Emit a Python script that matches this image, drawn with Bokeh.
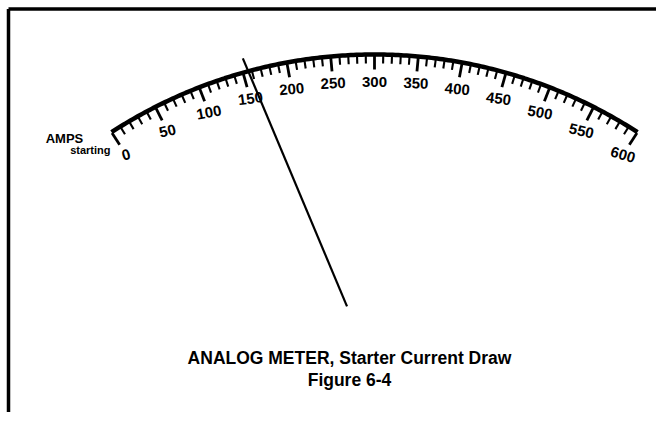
import numpy as np
from bokeh.plotting import figure
from bokeh.models import Range1d, ColumnDataSource
from bokeh.core.properties import value
from bokeh.embed import file_html
from bokeh.resources import INLINE

# ---- data ----
scale_min = 0
scale_max = 600
major_step = 50
minor_step = 10
major_values = list(range(0, 601, 50))
major_labels = [str(v) for v in major_values]
needle_value = 156
unit_label = "AMPS"
unit_sub = "starting"
title_line1 = "ANALOG METER, Starter Current Draw"
title_line2 = "Figure 6-4"

# ---- geometry (picture pixel coordinates, y downward) ----
W, H = 656, 412
cx, cy, R = 374.0, 538.0, 484.0
half_off = 263.0
pivot_x, pivot_y = 444.0, 538.0

def theta(v):
    off = (np.asarray(v, dtype=float) - (scale_min + scale_max) / 2) / ((scale_max - scale_min) / 2) * half_off
    return np.arcsin(off / R)

def pt(th, r):
    return cx + r * np.sin(th), cy - r * np.cos(th)

p = figure(width=W, height=H, output_backend="svg", toolbar_location=None,
           x_range=Range1d(0, W), y_range=Range1d(H, 0),
           min_border=0, background_fill_color="white", border_fill_color="white")
p.axis.visible = False
p.grid.visible = False
p.outline_line_color = None

# frame (left and top edges)
p.line([8, 8], [H, 8.5], line_color="black", line_width=3.5)
p.line([8, W], [8.5, 8.5], line_color="black", line_width=3.5)

# arc
ths = np.linspace(theta(scale_min), theta(scale_max), 200)
ax, ay = pt(ths, R)
p.line(ax, ay, line_color="black", line_width=4.5)

# ticks
vals = np.arange(scale_min, scale_max + 1, minor_step)
x0s, y0s, x1s, y1s, ws = [], [], [], [], []
for v in vals:
    th = theta(v)
    L = 15 if v % major_step == 0 else 9
    a0 = pt(th, R - 1)
    a1 = pt(th, R - L)
    x0s.append(a0[0]); y0s.append(a0[1]); x1s.append(a1[0]); y1s.append(a1[1])
    ws.append(2.8 if v % major_step == 0 else 2.1)
p.segment(x0=x0s, y0=y0s, x1=x1s, y1=y1s, line_color="black", line_width=ws)

# labels
lth = theta(major_values)
lx, ly = pt(lth, R - 27)
src = ColumnDataSource(dict(x=lx, y=ly, t=major_labels, a=-0.5 * lth))
p.text(x="x", y="y", text="t", angle="a", source=src, text_font=value("Liberation Sans"),
       text_font_style="bold", text_font_size="15px", text_align="center",
       text_baseline="middle", text_color="black")

# unit labels
p.text(x=[64], y=[138], text=[unit_label], text_font=value("Liberation Sans"), text_font_style="bold",
       text_font_size="13px", text_align="center", text_baseline="middle", text_color="black")
p.text(x=[110], y=[149], text=[unit_sub], text_font=value("Liberation Sans"), text_font_style="bold",
       text_font_size="11px", text_align="right", text_baseline="middle", text_color="black")

# needle
nth = theta(needle_value)
nx, ny = pt(nth, R)
d = np.array([pivot_x - nx, pivot_y - ny]); d = d / np.hypot(*d)
p.line([nx - 14 * d[0], nx + 255 * d[0]], [ny - 14 * d[1], ny + 255 * d[1]],
       line_color="black", line_width=2.2)

# captions
p.text(x=[349], y=[357], text=[title_line1], text_font=value("Liberation Sans"), text_font_style="bold",
       text_font_size="17.5px", text_align="center", text_baseline="middle", text_color="black")
p.text(x=[349], y=[379], text=[title_line2], text_font=value("Liberation Sans"), text_font_style="bold",
       text_font_size="17.5px", text_align="center", text_baseline="middle", text_color="black")

open("out.html", "w").write(file_html(p, INLINE))
